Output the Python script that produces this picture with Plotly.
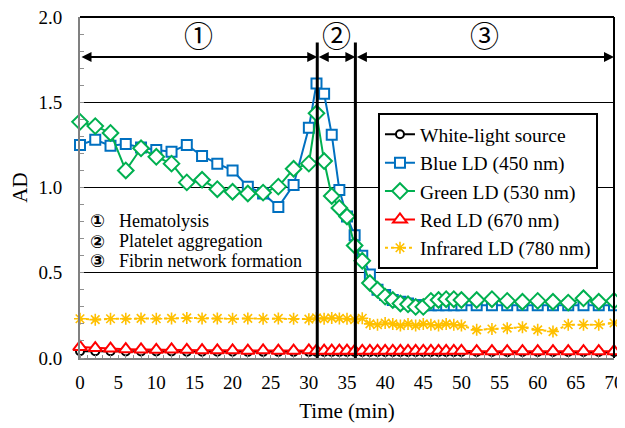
import plotly.graph_objects as go

# ---- data ----
time_min = list(range(0, 31, 2)) + list(range(31, 51)) + list(range(52, 71, 2))

white_light = [0.040, 0.040, 0.040, 0.038, 0.038, 0.038, 0.038, 0.037, 0.037, 0.037, 0.037, 0.036, 0.036, 0.036, 0.036, 0.036,
               0.036, 0.036, 0.036, 0.036, 0.036, 0.036, 0.035, 0.035, 0.035, 0.035, 0.035, 0.035, 0.035, 0.035,
               0.035, 0.035, 0.035, 0.035, 0.035, 0.035,
               0.035, 0.035, 0.035, 0.035, 0.035, 0.035, 0.035, 0.035, 0.035, 0.035]

blue_ld = [1.25, 1.28, 1.245, 1.255, 1.235, 1.22, 1.21, 1.25, 1.185, 1.14, 1.10, 1.005, 0.965, 0.885, 1.015, 1.35,
           1.61, 1.55, 1.31, 0.985, 0.83, 0.72, 0.60, 0.49, 0.40, 0.37, 0.34, 0.33, 0.32, 0.31,
           0.31, 0.31, 0.31, 0.31, 0.31, 0.31,
           0.31, 0.31, 0.31, 0.31, 0.31, 0.31, 0.31, 0.31, 0.31, 0.31]

green_ld = [1.385, 1.36, 1.32, 1.10, 1.23, 1.18, 1.14, 1.03, 1.045, 0.99, 0.975, 0.965, 0.97, 1.005, 1.11, 1.14,
            1.435, 1.155, 0.95, 0.88, 0.83, 0.66, 0.57, 0.44, 0.40, 0.36, 0.34, 0.32, 0.315, 0.30,
            0.30, 0.335, 0.34, 0.345, 0.345, 0.34,
            0.34, 0.345, 0.335, 0.33, 0.335, 0.33, 0.325, 0.35, 0.33, 0.335]

red_ld = [0.065, 0.058, 0.055, 0.052, 0.050, 0.048, 0.050, 0.048, 0.046, 0.045, 0.045, 0.043, 0.045, 0.043, 0.043, 0.045,
          0.043, 0.043, 0.043, 0.043, 0.043, 0.042, 0.042, 0.042, 0.042, 0.042, 0.042, 0.042, 0.042, 0.042,
          0.042, 0.042, 0.042, 0.042, 0.042, 0.042,
          0.040, 0.040, 0.040, 0.040, 0.040, 0.040, 0.040, 0.040, 0.040, 0.040]

infrared_ld = [0.23, 0.225, 0.23, 0.23, 0.232, 0.23, 0.232, 0.235, 0.232, 0.232, 0.23, 0.232, 0.23, 0.232, 0.23, 0.228,
               0.235, 0.23, 0.235, 0.232, 0.23, 0.225, 0.233, 0.20, 0.195, 0.205, 0.20, 0.19, 0.20, 0.19,
               0.20, 0.195, 0.19, 0.20, 0.195, 0.19,
               0.165, 0.17, 0.175, 0.18, 0.165, 0.155, 0.195, 0.195, 0.195, 0.205]

series_names = ["White-light source", "Blue LD (450 nm)", "Green LD (530 nm)", "Red LD (670 nm)", "Infrared LD (780 nm)"]

phase_bounds = [0, 31.1, 36.1, 70]
phase_labels = ["①", "②", "③"]
phase_notes = ["Hematolysis", "Platelet aggregation", "Fibrin network formation"]

x_ticks = list(range(0, 71, 5))
y_ticks = [0.0, 0.5, 1.0, 1.5, 2.0]

SERIF = "Liberation Serif, Times New Roman, serif"
CIRC_TOP = "Noto Sans CJK JP"
CIRC = "DejaVu Sans"

fig = go.Figure()

styles = [
    dict(color="#000000", symbol="circle", size=8, dash="solid", fill="white", lw=2),
    dict(color="#0070C0", symbol="square", size=10, dash="solid", fill="white", lw=2),
    dict(color="#00B050", symbol="diamond", size=12, dash="solid", fill="white", lw=2),
    dict(color="#FF0000", symbol="triangle-up", size=12, dash="solid", fill="white", lw=2),
    dict(color="#FFC000", symbol="asterisk-open", size=10, dash="dot", fill="#FFC000", lw=1.6),
]
data = [white_light, blue_ld, green_ld, red_ld, infrared_ld]
order = [0, 1, 2, 4, 3]
traces = {}
for i, (name, ys, st) in enumerate(zip(series_names, data, styles)):
    traces[i] = go.Scatter(
        x=time_min, y=ys, name=name, mode="lines+markers",
        line=dict(color=st["color"], width=2, dash=st["dash"]),
        marker=dict(symbol=st["symbol"], size=st["size"], color=st["fill"],
                    line=dict(color=st["color"], width=st["lw"])),
        cliponaxis=False, legendrank=i + 1,
    )
for i in order:
    fig.add_trace(traces[i])

for b in phase_bounds[1:-1]:
    fig.add_shape(type="line", x0=b, x1=b, y0=0, y1=1.85, xref="x", yref="y",
                  line=dict(color="black", width=3))

for i in range(3):
    x0, x1 = phase_bounds[i], phase_bounds[i + 1]
    fig.add_annotation(x=x1, y=1.765, ax=x0, ay=1.765, xref="x", yref="y", axref="x", ayref="y",
                       showarrow=True, arrowhead=2, startarrowhead=2, arrowside="end+start",
                       arrowwidth=2, arrowsize=1, startarrowsize=1, arrowcolor="black", text="")
    fig.add_annotation(x=(x0 + x1) / 2, y=1.9, xref="x", yref="y", text=phase_labels[i],
                       showarrow=False, font=dict(family=CIRC_TOP, size=29, color="black"))

note_y = [0.805, 0.685, 0.57]
for i in range(3):
    fig.add_annotation(x=2.3, y=note_y[i], xref="x", yref="y", text="<b>" + phase_labels[i] + "</b>",
                       showarrow=False, font=dict(family=CIRC, size=18, color="black"))
    fig.add_annotation(x=4.9, y=note_y[i], xref="x", yref="y", text=phase_notes[i], xanchor="left",
                       showarrow=False, font=dict(family=SERIF, size=18, color="black"))

fig.add_shape(type="line", x0=0, x1=1, y0=1, y1=1, xref="paper", yref="paper", line=dict(color="black", width=2))
fig.add_shape(type="line", x0=1, x1=1, y0=0, y1=1, xref="paper", yref="paper", line=dict(color="black", width=2))

# the page body adds an 8px offset; margins compensate so the plot area lands where the reference has it
fig.update_layout(
    width=625, height=428,
    margin=dict(l=72, r=19, t=9, b=78),
    paper_bgcolor="white", plot_bgcolor="white",
    font=dict(family=SERIF, size=19, color="black"),
    showlegend=True,
    legend=dict(x=0.558, y=0.718, xanchor="left", yanchor="top",
                bgcolor="white", bordercolor="black", borderwidth=2,
                font=dict(family=SERIF, size=19.5), itemwidth=30,
                tracegroupgap=0),
    xaxis=dict(range=[0, 70], tickvals=x_ticks, ticktext=[str(v) for v in x_ticks],
               showgrid=False, zeroline=False, showline=True, linecolor="#808080", linewidth=2,
               ticks="", ticklabelstandoff=6, automargin=False, ticklabeloverflow="allow",
               minor=dict(dtick=1, ticks="inside", ticklen=3, tickcolor="#909090", showgrid=False),
               title=dict(text="Time (min)", font=dict(size=21), standoff=12)),
    yaxis=dict(range=[0, 2.0], tickvals=y_ticks, ticktext=["%.1f" % v for v in y_ticks],
               showgrid=True, gridcolor="#000000", gridwidth=1, zeroline=False,
               showline=True, linecolor="#808080", linewidth=2,
               ticks="", ticklabelstandoff=12, automargin=False, ticklabeloverflow="allow",
               minor=dict(dtick=0.1, ticks="inside", ticklen=4, tickcolor="#909090", showgrid=False),
               title=dict(text="AD", font=dict(size=21), standoff=14)),
)

fig.write_html("out.html")
